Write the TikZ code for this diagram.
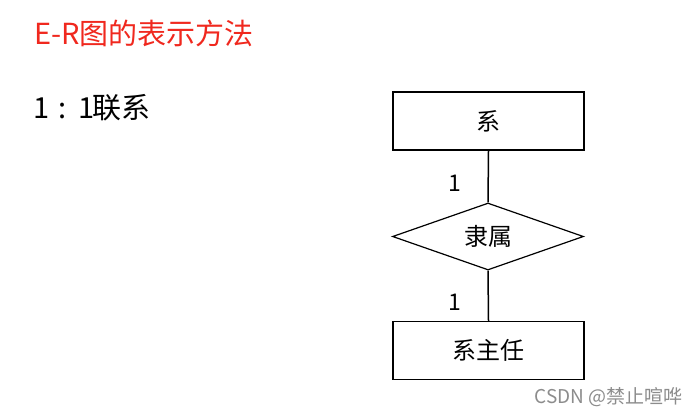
\documentclass[tikz,border=0pt]{standalone}
\usepackage{fontspec}
\setmainfont{Noto Sans CJK SC}
\usetikzlibrary{shapes.geometric}
\definecolor{titlered}{RGB}{240,40,30}
\tikzset{
  entity/.style={draw=black, line width=1.5pt, minimum width=191pt, minimum height=58pt, font=\fontsize{24}{28}\selectfont},
  rel/.style={draw=black, line width=1.2pt, diamond, aspect=2.85, minimum width=191pt, minimum height=67pt, inner sep=0pt, font=\fontsize{24}{28}\selectfont},
  conn/.style={draw=black, line width=1.5pt},
  card/.style={font=\fontsize{23}{26}\selectfont}
}
\begin{document}
\begin{tikzpicture}[x=1pt,y=-1pt]
\fill[white] (0,0) rectangle (698,416);
\useasboundingbox (0,0) rectangle (698,416);
\node[anchor=west, text=titlered, font=\fontsize{29}{33}\selectfont, inner sep=0pt] (title) at (34,33) {E-R图的表示方法};
\node[anchor=west, font=\fontsize{29}{33}\selectfont, inner sep=0pt] (sub) at (33,108) {1\hspace{9pt}:\hspace{12pt}1\hspace{-2pt}联系};
\node[entity] (dept) at (488.5,121) {系};
\node[rel] (belong) at (488,236.5) {隶属};
\node[entity] (head) at (488.5,350.5) {系主任};
\draw[conn] (dept.south) -- (belong.north);
\draw[conn] (belong.south) -- (head.north);
\node[card] (c1) at (455,183) {1};
\node[card] (c2) at (455,302) {1};
\node[anchor=east, text=black!45, font=\fontsize{19}{22}\selectfont, inner sep=0pt] (wm) at (683,397) {CSDN @禁止喧哗};
\end{tikzpicture}
\end{document}
